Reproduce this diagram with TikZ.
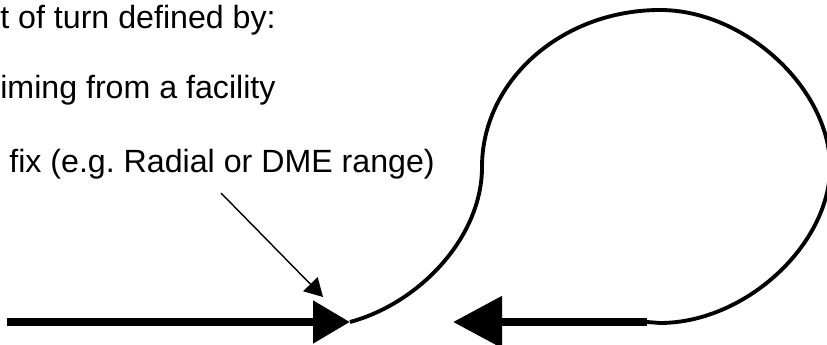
\documentclass[tikz,border=0pt]{standalone}
\usepackage{fontspec}
\setmainfont{Liberation Sans}
\usetikzlibrary{arrows.meta}
\frenchspacing

\begin{document}
\begin{tikzpicture}[x=1cm,y=1cm,
  track/.style={line width=4.6pt},
  turnpath/.style={line width=2.2pt},
  pointer/.style={line width=0.8pt,-{Triangle[length=0.36cm,width=0.40cm]}},
  caption/.style={anchor=base west,inner sep=0pt,font=\fontsize{18.3}{22}\selectfont}]
  \useasboundingbox (0,0) rectangle (16.54,6.90);

  % Texte
  \node[caption] (lineA) at (0,6.32) {t of turn defined by:};
  \node[caption] (lineB) at (0,4.92) {iming from a facility};
  \node[caption] (lineC) at (0.18,3.44) {fix (e.g. Radial or DME range)};

  % Punkte
  \coordinate (inStart) at (0.14,0.46);
  \coordinate (fix) at (7.00,0.46);
  \coordinate (ptrStart) at (4.42,3.04);
  \coordinate (ptrTip) at (6.46,0.96);
  \coordinate (leftSide) at (9.64,3.56);
  \coordinate (top) at (13.20,6.70);
  \coordinate (rightSide) at (16.60,3.56);
  \coordinate (bottom) at (13.20,0.44);
  \coordinate (outStart) at (12.94,0.46);
  \coordinate (outTip) at (9.06,0.46);

  % Anflug zum Fix
  \draw[track,-{Triangle[length=0.74cm,width=0.82cm]}] (inStart) -- (fix);
  \draw[pointer] (ptrStart) -- (ptrTip);

  % Kurve
  \draw[turnpath] (fix) .. controls (8.40,0.84) and (9.64,2.16) .. (leftSide)
    .. controls (9.64,5.29) and (11.24,6.70) .. (top)
    .. controls (14.90,6.70) and (16.60,5.13) .. (rightSide)
    .. controls (16.60,2.00) and (14.90,0.44) .. (bottom) -- (outStart);

  % Rueckflug
  \draw[track,-{Triangle[length=0.98cm,width=1.0cm]}] (outStart) -- (outTip);
\end{tikzpicture}
\end{document}
